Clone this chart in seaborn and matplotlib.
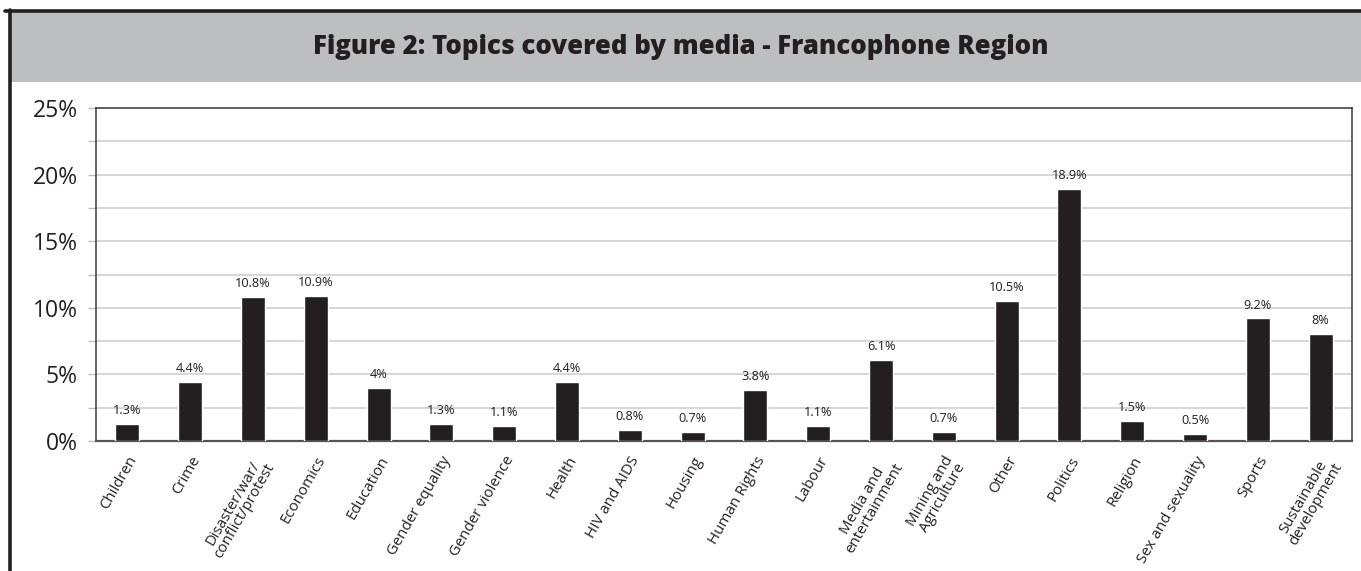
import matplotlib
matplotlib.use("Agg")
import matplotlib.pyplot as plt
from matplotlib.patches import Rectangle
from matplotlib.lines import Line2D
import seaborn as sns
import pandas as pd

categories = [
    "Children", "Crime", "Disaster/war/\nconflict/protest", "Economics",
    "Education", "Gender equality", "Gender violence", "Health",
    "HIV and AIDS", "Housing", "Human Rights", "Labour",
    "Media and\nentertainment", "Mining and\nAgriculture", "Other",
    "Politics", "Religion", "Sex and sexuality", "Sports",
    "Sustainable\ndevelopment",
]
values = [1.3, 4.4, 10.8, 10.9, 4.0, 1.3, 1.1, 4.4, 0.8, 0.7,
          3.8, 1.1, 6.1, 0.7, 10.5, 18.9, 1.5, 0.5, 9.2, 8.0]
value_labels = ["1.3%", "4.4%", "10.8%", "10.9%", "4%", "1.3%", "1.1%",
                "4.4%", "0.8%", "0.7%", "3.8%", "1.1%", "6.1%", "0.7%",
                "10.5%", "18.9%", "1.5%", "0.5%", "9.2%", "8%"]
ytick_values = [0, 5, 10, 15, 20, 25]
ytick_labels = ["0%", "5%", "10%", "15%", "20%", "25%"]
title = "Figure 2: Topics covered by media - Francophone Region"

sns.set_theme(style="white")
plt.rcParams["font.family"] = ["Open Sans", "DejaVu Sans"]

W, H = 1361, 571
fig = plt.figure(figsize=(W / 100, H / 100), dpi=100)
fig.patch.set_facecolor("white")

# grey header band with the title
fig.patches.append(Rectangle((9 / W, 1 - 82 / H), 1 - 9 / W, 70 / H,
                             transform=fig.transFigure, facecolor="#bcbec0",
                             edgecolor="none", zorder=0))
fig.lines.append(Line2D([5 / W, 1], [1 - 11 / H, 1 - 11 / H],
                        transform=fig.transFigure, color="#231f20", lw=2.6))
fig.lines.append(Line2D([9.5 / W, 9.5 / W], [0, 1 - 10 / H],
                        transform=fig.transFigure, color="#231f20", lw=2.6))
fig.text(0.5, 1 - 47 / H, title, ha="center", va="center",
         fontsize=18.5, fontweight="heavy", color="#231f20")

ax = fig.add_axes([96 / W, 1 - 441 / H, (1352 - 96) / W, (441 - 108) / H])
df = pd.DataFrame({"topic": categories, "share": values})
sns.barplot(data=df, x="topic", y="share", color="#231f20", width=0.38,
            saturation=1, ax=ax, zorder=3)

ax.set_ylim(0, 25)
ax.set_xlim(-0.5, len(categories) - 0.5)
ax.set_yticks(ytick_values)
ax.set_yticklabels(ytick_labels, fontsize=16.5, color="#231f20")
ax.set_yticks([2.5, 7.5, 12.5, 17.5, 22.5], minor=True)
ax.grid(axis="y", which="both", color="#cfd0d2", lw=1.2, zorder=0)
ax.tick_params(axis="y", which="both", left=True, length=6, width=1,
               color="#bdbdbd", pad=7)
ax.set_xticks(range(len(categories)))
ax.set_xticklabels(categories, rotation=60, ha="right",
                   rotation_mode="anchor", fontsize=10.8, color="#231f20",
                   linespacing=0.9, multialignment="center")
ax.tick_params(axis="x", bottom=False, pad=3)
ax.set_xlabel("")
ax.set_ylabel("")
for s in ax.spines.values():
    s.set_color("#3a3a3a")
    s.set_linewidth(1.1)
ax.spines["bottom"].set_color("#555555")
ax.spines["bottom"].set_linewidth(1.6)

for i, (v, lab) in enumerate(zip(values, value_labels)):
    ax.annotate(lab, (i, v), xytext=(0, 5), textcoords="offset points",
                ha="center", va="bottom", fontsize=9.2, color="#231f20")

fig.savefig("out.png", dpi=100)
